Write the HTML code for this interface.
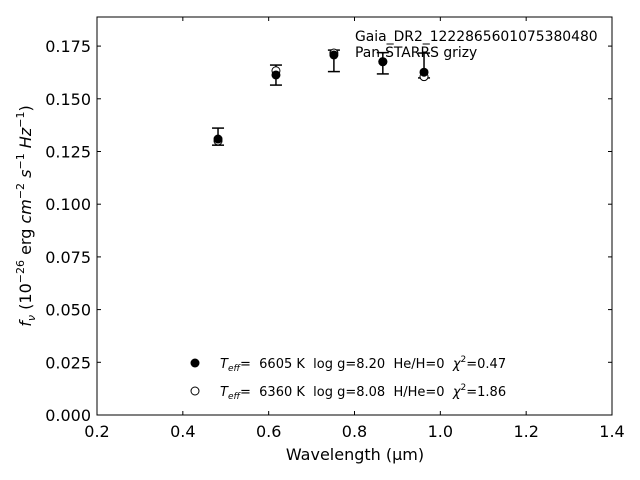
<!DOCTYPE html>
<html><head><meta charset="utf-8"><style>
body{margin:0;background:#fff;}
svg{display:block;font-family:"DejaVu Sans","Liberation Sans",sans-serif;}
text{white-space:pre;}
</style></head><body>
<svg id="chart" width="640" height="480" viewBox="0 0 640 480">
<rect width="640" height="480" fill="#fff"/>
<g id="plot"></g>
</svg>
<script>
const xTicks=[0.2,0.4,0.6,0.8,1.0,1.2,1.4];
const yTicks=[0.000,0.025,0.050,0.075,0.100,0.125,0.150,0.175];
const wavelengths=[0.482,0.617,0.752,0.866,0.962];
const fluxObs=[0.1309,0.1613,0.1708,0.1676,0.1626];
const errTop=[0.1361,0.1660,0.1731,0.1719,0.1717];
const errBot=[0.1280,0.1565,0.1629,0.1618,0.1599];
const modelOpen=[0.1300,0.1633,0.1717,0.1676,0.1605];

const X0=97,X1=612,Y0=415,Y1=17;
const xmin=0.2,xmax=1.4,ymin=0,ymax=0.1888;
const sx=v=>X0+(v-xmin)/(xmax-xmin)*(X1-X0);
const sy=v=>Y0-(v-ymin)/(ymax-ymin)*(Y0-Y1);
const NS="http://www.w3.org/2000/svg";
const g=document.getElementById('plot');
function mk(tag,attrs,name,text){const e=document.createElementNS(NS,tag);for(const k in attrs)e.setAttribute(k,attrs[k]);


if(text!==undefined)e.textContent=text;g.appendChild(e);return e;}

mk('rect',{x:X0,y:Y1,width:X1-X0,height:Y0-Y1,fill:'none',stroke:'#000','stroke-width':1},'plot-frame');
xTicks.forEach(t=>{const x=sx(t);
mk('line',{x1:x,x2:x,y1:Y0,y2:Y0-4,stroke:'#000'},'x-tick');
mk('line',{x1:x,x2:x,y1:Y1,y2:Y1+4,stroke:'#000'},'x-tick-top');
mk('text',{x:x,y:Y0+22,'text-anchor':'middle','font-size':16},'x-tick-label',t.toFixed(1));});
yTicks.forEach(t=>{const y=sy(t);
mk('line',{x1:X0,x2:X0+4,y1:y,y2:y,stroke:'#000'},'y-tick');
mk('line',{x1:X1,x2:X1-4,y1:y,y2:y,stroke:'#000'},'y-tick-right');
mk('text',{x:X0-6,y:y+6,'text-anchor':'end','font-size':16},'y-tick-label',t.toFixed(3));});

mk('text',{x:355,y:460,'text-anchor':'middle','font-size':16},'x-axis-title','Wavelength (\u03bcm)');
const yt=mk('text',{x:0,y:0,'font-size':16,transform:'translate(31,216) rotate(-90)','text-anchor':'middle'},'y-axis-title');
yt.innerHTML='<tspan font-style="italic">f</tspan><tspan font-style="italic" font-size="11" dy="4">\u03bd</tspan><tspan dy="-4"> (10</tspan><tspan font-size="11" dy="-7">\u221226</tspan><tspan dy="7"> erg </tspan><tspan font-style="italic">cm</tspan><tspan font-size="11" dy="-7">\u22122</tspan><tspan dy="7"> </tspan><tspan font-style="italic">s</tspan><tspan font-size="11" dy="-7">\u22121</tspan><tspan dy="7"> </tspan><tspan font-style="italic">Hz</tspan><tspan font-size="11" dy="-7">\u22121</tspan><tspan dy="7">)</tspan>';

wavelengths.forEach((w,i)=>{const x=sx(w);
mk('line',{x1:x,x2:x,y1:sy(errTop[i]),y2:sy(errBot[i]),stroke:'#000','stroke-width':1.5},'error-bar');
mk('line',{x1:x-6,x2:x+6,y1:sy(errTop[i]),y2:sy(errTop[i]),stroke:'#000','stroke-width':1.5},'error-cap-top');
mk('line',{x1:x-6,x2:x+6,y1:sy(errBot[i]),y2:sy(errBot[i]),stroke:'#000','stroke-width':1.5},'error-cap-bottom');
mk('circle',{cx:x,cy:sy(modelOpen[i]),r:4,fill:'#fff',stroke:'#000','stroke-width':1},'model-point-open');
mk('circle',{cx:x,cy:sy(fluxObs[i]),r:4.5,fill:'#000'},'observed-point');});

mk('text',{x:355,y:41,'font-size':13.9},'star-name','Gaia_DR2_1222865601075380480');
mk('text',{x:355,y:57,'font-size':13.9},'survey-label','Pan-STARRS grizy');

mk('circle',{cx:195,cy:363,r:4.5,fill:'#000'},'legend-marker-filled');
mk('circle',{cx:195,cy:391,r:4,fill:'#fff',stroke:'#000'},'legend-marker-open');
const l1=mk('text',{x:220,y:368,'font-size':13},'legend-entry-1');
l1.innerHTML='<tspan font-style="italic">T</tspan><tspan font-style="italic" font-size="9" dy="3">eff</tspan><tspan dy="-3">=  6605 K  log g=8.20  He/H=0  </tspan><tspan font-style="italic">\u03c7</tspan><tspan font-size="9" dy="-6">2</tspan><tspan dy="6">=0.47</tspan>';
const l2=mk('text',{x:220,y:396,'font-size':13},'legend-entry-2');
l2.innerHTML='<tspan font-style="italic">T</tspan><tspan font-style="italic" font-size="9" dy="3">eff</tspan><tspan dy="-3">=  6360 K  log g=8.08  H/He=0  </tspan><tspan font-style="italic">\u03c7</tspan><tspan font-size="9" dy="-6">2</tspan><tspan dy="6">=1.86</tspan>';
</script>
</body></html>
